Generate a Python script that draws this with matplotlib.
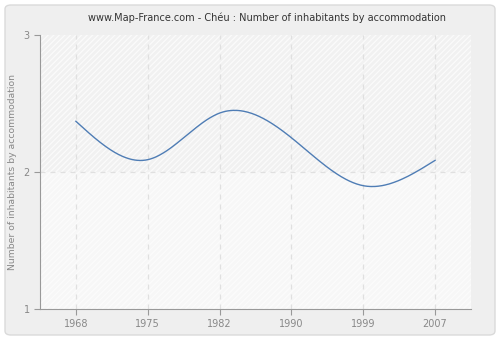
import numpy as np
import matplotlib
matplotlib.use("Agg")
import matplotlib.pyplot as plt
from matplotlib.patches import FancyBboxPatch, Rectangle

years = ["1968", "1975", "1982", "1990", "1999", "2007"]
values = [2.37, 2.09, 2.43, 2.25, 1.90, 2.085]
title = "www.Map-France.com - Chéu : Number of inhabitants by accommodation"
ylabel = "Number of inhabitants by accommodation"


def natural_spline(x, y, xs):
    # plain natural cubic spline, just for the smooth line between points
    x = np.asarray(x, float)
    y = np.asarray(y, float)
    n = len(x)
    h = np.diff(x)
    A = np.zeros((n, n))
    b = np.zeros(n)
    A[0, 0] = A[-1, -1] = 1
    for i in range(1, n - 1):
        A[i, i - 1] = h[i - 1]
        A[i, i] = 2 * (h[i - 1] + h[i])
        A[i, i + 1] = h[i]
        b[i] = 3 * ((y[i + 1] - y[i]) / h[i] - (y[i] - y[i - 1]) / h[i - 1])
    c = np.linalg.solve(A, b)
    out = np.empty_like(xs)
    for k, t in enumerate(xs):
        i = min(max(np.searchsorted(x, t) - 1, 0), n - 2)
        d = t - x[i]
        bi = (y[i + 1] - y[i]) / h[i] - h[i] * (2 * c[i] + c[i + 1]) / 3
        di = (c[i + 1] - c[i]) / (3 * h[i])
        out[k] = y[i] + bi * d + c[i] * d ** 2 + di * d ** 3
    return out


fig = plt.figure(figsize=(5, 3.4), dpi=100)
fig.patch.set_facecolor("white")
fig.add_artist(FancyBboxPatch((5 / 500, 5 / 340), 490 / 500, 330 / 340,
                              boxstyle="round,pad=0,rounding_size=0.012",
                              transform=fig.transFigure, facecolor="#efefef",
                              edgecolor="#dadada", lw=1, zorder=-5))

ax = fig.add_axes([40 / 500, 1 - 309 / 340, 431 / 500, 274 / 340])
ax.set_facecolor("none")
plt.rcParams["hatch.linewidth"] = 0.9
# upper half has a more visible hatch than the lower half
ax.add_patch(Rectangle((-0.5, 2), 6, 1, facecolor="#f1f1f1",
                       edgecolor="#fbfbfb", hatch="//////", lw=0, zorder=0))
ax.add_patch(Rectangle((-0.5, 1), 6, 1, facecolor="#f7f7f7",
                       edgecolor="#fcfcfc", hatch="//////", lw=0, zorder=0))

xi = np.arange(len(years))
xs = np.linspace(0, len(years) - 1, 400)
ax.plot(xs, natural_spline(xi, values, xs), color="#4f7db5", lw=1, zorder=3)

ax.set_xlim(-0.5, 5.5)
ax.set_ylim(1, 3)
ax.set_xticks(xi)
ax.set_xticklabels(years)
ax.set_yticks([1, 2, 3])
for x in xi:
    ax.axvline(x, color="#e0e0e0", lw=0.9, ls=(0, (4, 4)), zorder=1)
ax.axhline(2, color="#e0e0e0", lw=0.9, ls=(0, (4, 4)), zorder=1)

for s in ["top", "right"]:
    ax.spines[s].set_visible(False)
for s in ["left", "bottom"]:
    ax.spines[s].set_color("#999999")
ax.tick_params(colors="#999999", labelcolor="#888888", labelsize=7, length=4, width=0.8)

fig.text(267 / 500, 1 - 18 / 340, title, ha="center", va="center", fontsize=7, color="#333333")
fig.text(13 / 500, 1 - 172 / 340, ylabel, ha="center", va="center", rotation=90,
         fontsize=6.7, color="#888888")

fig.savefig("out.png", dpi=100)
